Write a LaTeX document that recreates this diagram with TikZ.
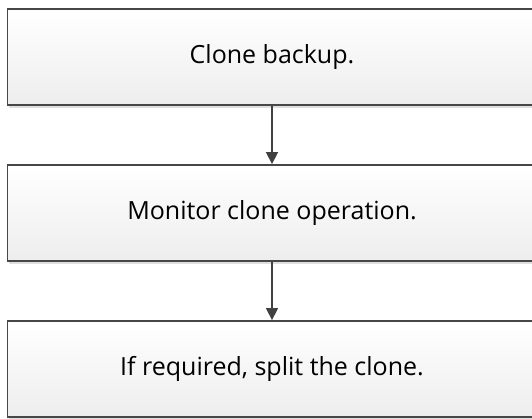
\documentclass[tikz,border=0pt]{standalone}
\usepackage{fontspec}
\setmainfont{Open Sans}
\usetikzlibrary{arrows.meta,shadows}
\begin{document}
\begin{tikzpicture}[x=1pt,y=-1pt,
  stepbox/.style={draw=black!72,line width=1.8pt,top color=white,bottom color=black!7,
    minimum width=529pt,minimum height=96pt,inner sep=0pt,font=\fontsize{25}{30}\selectfont,
    drop shadow={shadow xshift=1.5pt,shadow yshift=-2.5pt,opacity=0.25}},
  link/.style={draw=black!75,line width=1.4pt,-{Triangle[length=12pt,width=12pt]}}]
\useasboundingbox (0,0) rectangle (532,418);
\node[stepbox] (a) at (272,57) {Clone backup.};
\node[stepbox] (b) at (272,213) {Monitor clone operation.};
\node[stepbox] (c) at (272,369) {If required, split the clone.};
\draw[link] (a) -- (b);
\draw[link] (b) -- (c);
\end{tikzpicture}
\end{document}
